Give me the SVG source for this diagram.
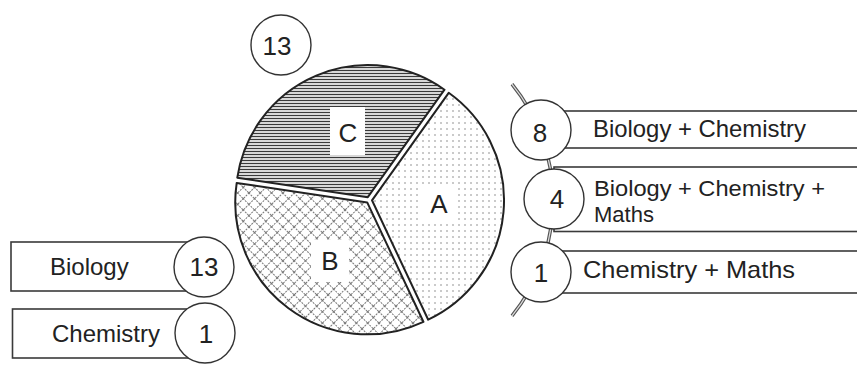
<svg xmlns="http://www.w3.org/2000/svg" width="857" height="385" viewBox="0 0 857 385">
<style>
  .lbl{font-family:"Liberation Sans",Arial,sans-serif;font-size:24px;fill:#222}
  .lbl2{font-family:"Liberation Sans",Arial,sans-serif;font-size:22px;fill:#222}
  .num{font-family:"Liberation Sans",Arial,sans-serif;font-size:26px;fill:#222;text-anchor:middle}
  .box{fill:#fff;stroke:#3a3a3a;stroke-width:1.6}
  .circ{fill:#fff;stroke:#333;stroke-width:1.4}
  .slice{stroke:#222;stroke-width:2;stroke-linejoin:round}
</style>
<defs>
  <pattern id="hatch" width="6" height="3" patternUnits="userSpaceOnUse">
    <rect width="6" height="3" fill="#fff"/>
    <line x1="0" y1="1.5" x2="6" y2="1.5" stroke="#3a3a3a" stroke-width="1.4"/>
  </pattern>
  <pattern id="dots" width="6" height="6" patternUnits="userSpaceOnUse">
    <rect width="6" height="6" fill="#fff"/>
    <circle cx="3" cy="3" r="0.8" fill="#888"/>
  </pattern>
  <pattern id="cross" width="8" height="8" patternUnits="userSpaceOnUse" patternTransform="rotate(45)">
    <rect width="8" height="8" fill="#fff"/>
    <line x1="0" y1="0.5" x2="8" y2="0.5" stroke="#777" stroke-width="1" stroke-dasharray="2 1"/>
    <line x1="0.5" y1="0" x2="0.5" y2="8" stroke="#777" stroke-width="1" stroke-dasharray="2 1"/>
  </pattern>
</defs>
<rect width="857" height="385" fill="#fff"/>

<g id="pie">
  <g id="sliceC">
    <path class="slice" fill="url(#hatch)" d="M 367.8 197.2 L 237.3 177.7 A 132 132 0 0 1 444.5 89.7 Z"/>
    <rect x="330" y="107" width="35" height="48" fill="#fff"/>
    <text class="num" x="348" y="142">C</text>
  </g>
  <g id="sliceA">
    <path class="slice" fill="url(#dots)" d="M 372 200.3 L 448.7 92.8 A 132 132 0 0 1 428.2 319.7 Z"/>
    <rect x="422" y="186" width="34" height="34" fill="#fff"/>
    <text class="num" x="439" y="213">A</text>
  </g>
  <g id="sliceB">
    <path class="slice" fill="url(#cross)" d="M 367.2 202.4 L 423.4 321.8 A 132 132 0 0 1 236.7 182.9 Z"/>
    <rect x="311" y="240" width="38" height="42" fill="#fff"/>
    <text class="num" x="330" y="270">B</text>
  </g>
</g>

<g id="connectors">
  <path d="M 512 84.2 A 184 184 0 0 1 512 315.8" fill="none" stroke="#555" stroke-width="3.5"/>
  <path d="M 512 84.2 A 184 184 0 0 1 512 315.8" fill="none" stroke="#ddd" stroke-width="1.2"/>
</g>

<g id="top13">
  <circle class="circ" cx="281" cy="45" r="30"/>
  <text class="num" x="277" y="55">13</text>
</g>

<g id="biology">
  <rect class="box" x="11" y="242" width="193" height="49"/>
  <text class="lbl" x="50" y="275">Biology</text>
  <circle class="circ" cx="204" cy="267" r="30"/>
  <text class="num" x="204" y="276">13</text>
</g>

<g id="chemistry">
  <rect class="box" x="12.5" y="309" width="192" height="49"/>
  <text class="lbl" x="52" y="342">Chemistry</text>
  <circle class="circ" cx="205" cy="333" r="30"/>
  <text class="num" x="206" y="343">1</text>
</g>

<g id="bioChem">
  <rect class="box" x="541" y="111" width="330" height="37"/>
  <text class="lbl" x="593" y="137" textLength="213" lengthAdjust="spacingAndGlyphs">Biology + Chemistry</text>
  <circle class="circ" cx="541" cy="130" r="30"/>
  <text class="num" x="540" y="142">8</text>
</g>

<g id="bioChemMaths">
  <rect class="box" x="554" y="167" width="320" height="64.5"/>
  <text class="lbl2" x="594" y="196" textLength="231" lengthAdjust="spacingAndGlyphs">Biology + Chemistry +</text>
  <text class="lbl2" x="594" y="221.5">Maths</text>
  <circle class="circ" cx="554" cy="199" r="30"/>
  <text class="num" x="557" y="208">4</text>
</g>

<g id="chemMaths">
  <rect class="box" x="541" y="251" width="330" height="42"/>
  <text class="lbl" x="583" y="278" textLength="212" lengthAdjust="spacingAndGlyphs">Chemistry + Maths</text>
  <circle class="circ" cx="541" cy="272" r="30"/>
  <text class="num" x="541" y="282">1</text>
</g>
</svg>
